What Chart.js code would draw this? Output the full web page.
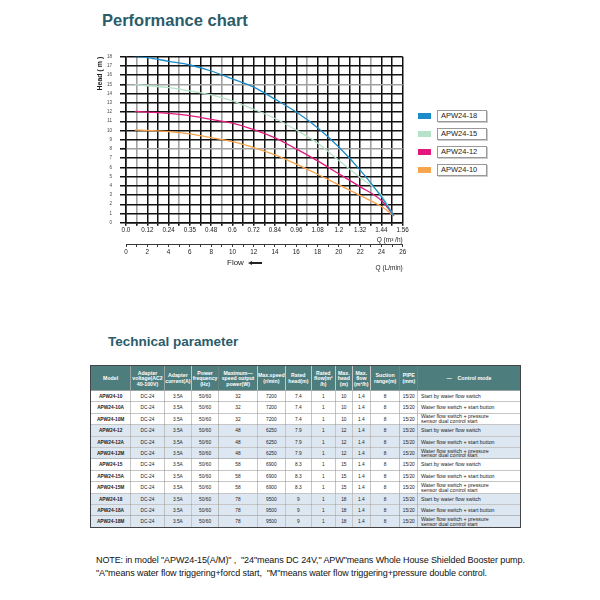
<!DOCTYPE html>
<html>
<head>
<meta charset="utf-8">
<script src="https://cdn.jsdelivr.net/npm/chart.js@4.4.1/dist/chart.umd.min.js"></script>
<style>
  html,body{margin:0;padding:0;background:#fff;width:600px;height:600px;overflow:hidden;font-family:"Liberation Sans",Arial,sans-serif;}
  .h{position:absolute;font-weight:bold;color:#2b5c6a;white-space:nowrap;}
  #wrap{position:absolute;left:80px;top:46px;width:335px;height:226px;}
  #flow{position:absolute;left:227px;top:258px;font-size:8px;color:#222;white-space:nowrap;}
  #flow i{display:inline-block;width:0;height:0;border-top:2px solid transparent;border-bottom:2px solid transparent;border-right:4px solid #222;vertical-align:middle;margin-left:4px;}
  #flow b{display:inline-block;width:10px;height:2px;background:#222;vertical-align:middle;}
  .lg{position:absolute;left:418px;height:10px;}
  .lg span.sw{position:absolute;left:0;top:3px;width:13px;height:6px;}
  .lg span.tx{position:absolute;left:19px;top:0;width:45px;height:10px;border:1px solid #999;box-shadow:1px 1px 0 #ccc;font-size:7.5px;line-height:10px;padding-left:3px;color:#222;white-space:nowrap;}
  #tbox{position:absolute;left:90px;top:365px;width:860px;transform:scale(0.5);transform-origin:0 0;}
  table{width:860px;border-collapse:collapse;table-layout:fixed;border:2px solid #444;}
  td,th{border:1.2px solid #8a8a8a;font-size:9.6px;text-align:center;padding:0;color:#222;white-space:nowrap;overflow:hidden;height:22.8px;line-height:10px;box-sizing:border-box;}
  th{background:#4e7d7e;color:#fff;font-weight:bold;height:50px;line-height:11px;font-size:10.4px;white-space:normal;}
  td.m{font-weight:bold;}
  td.c{text-align:left;padding-left:6px;white-space:normal;line-height:9.5px;font-size:10.6px;}
  tr.b td{background:#dde7f1;}
  #note{position:absolute;left:96px;top:554px;font-size:9px;line-height:13px;color:#111;white-space:nowrap;letter-spacing:-0.1px;}
</style>
</head>
<body>
<div class="h" style="left:102px;top:11px;font-size:16.5px;">Performance chart</div>
<div id="wrap"><canvas id="c"></canvas></div>
<div id="flow">Flow<i></i><b></b></div>
<div id="legend"></div>
<div class="h" style="left:108px;top:334px;font-size:13.5px;">Technical parameter</div>
<div id="tbox"><table id="tbl"></table></div>
<div id="note">NOTE: in model "APW24-15(A/M)" ,&nbsp; "24"means DC 24V," APW"means Whole House Shielded Booster pump.<br>"A"means water flow triggering+forcd start,&nbsp; "M"means water flow triggering+pressure double control.</div>
<script>
// ---------- chart data ----------
const seriesNames = ["APW24-18", "APW24-15", "APW24-12", "APW24-10"];
const seriesColors = ["#1b8cc9", "#b5e2c8", "#e2187c", "#f6a54c"];
const flowQ = [0.05, 0.12, 0.24, 0.36, 0.48, 0.6, 0.72, 0.84, 0.96, 1.08, 1.2, 1.32, 1.44, 1.51];
const head18 = [18.0, 17.9, 17.5, 17.1, 16.45, 15.6, 14.7, 13.4, 12.0, 10.3, 8.2, 5.7, 2.8, 0.75];
const head15 = [15.0, 14.85, 14.65, 14.3, 13.85, 13.2, 12.3, 11.3, 10.05, 8.65, 6.75, 4.9, 3.0, 0.75];
const head12 = [12.07, 12.0, 11.86, 11.6, 11.2, 10.8, 10.1, 9.2, 8.0, 6.7, 5.3, 3.9, 2.4, 0.75];
const head10 = [10.05, 10.0, 9.88, 9.63, 9.22, 8.8, 8.15, 7.35, 6.35, 5.25, 4.1, 2.95, 1.75, 0.75];
const qTickLabels = ["0.0","0.12","0.24","0.35","0.48","0.6","0.72","0.84","0.96","1.08","1.2","1.32","1.44","1.56"];
const lminTickLabels = ["0","2","4","6","8","10","12","14","16","18","20","22","24","26"];
const headTickLabels = ["0","1","2","3","4","5","6","7","8","9","10","11","12","13","14","15","16","17","18"];

// ---------- table data ----------
const models = ["APW24-10","APW24-10A","APW24-10M","APW24-12","APW24-12A","APW24-12M","APW24-15","APW24-15A","APW24-15M","APW24-18","APW24-18A","APW24-18M"];
const voltage = Array(12).fill("DC-24");
const current = Array(12).fill("3.5A");
const freq = Array(12).fill("50/60");
const power = ["32","32","32","48","48","48","58","58","58","78","78","78"];
const speed = ["7200","7200","7200","6250","6250","6250","6900","6900","6900","9500","9500","9500"];
const ratedHead = ["7.4","7.4","7.4","7.9","7.9","7.9","8.3","8.3","8.3","9","9","9"];
const ratedFlow = Array(12).fill("1");
const maxHead = ["10","10","10","12","12","12","15","15","15","18","18","18"];
const maxFlow = ["1,4","1.4","1.4","1.4","1.4","1.4","1.4","1.4","1.4","1.4","1.4","1.4"];
const suction = Array(12).fill("8");
const pipe = Array(12).fill("15/20");
const modes = ["Start by water flow switch","Water flow switch + start button","Water flow switch + pressure<br>sensor dual control start"];
const headers = ["Model","Adapter voltage(AC2 40-100V)","Adapter current(A)","Power frequency (Hz)","Maximum—speed output power(W)","Max.speed (r/min)","Rated head(m)","Rated flow(m³ /h)","Max. head (m)","Max. flow (m³/h)","Suction range(m)","PIPE (mm)","—&nbsp;&nbsp;&nbsp; Control mode"];
const colW = [40,34,26.7,27.7,38.3,28.3,25.7,24.3,16.7,18.3,29.3,18,102.7];

// build table (drawn at 2x, scaled down)
const tbl = document.getElementById('tbl');
let html = '<colgroup>' + colW.map(w => `<col style="width:${w * 2}px">`).join('') + '</colgroup>';
html += '<tr>' + headers.map(h => `<th>${h}</th>`).join('') + '</tr>';
for (let i = 0; i < models.length; i++) {
  const cls = (Math.floor(i / 3) % 2 === 1) ? ' class="b"' : '';
  html += `<tr${cls}><td class="m">${models[i]}</td><td>${voltage[i]}</td><td>${current[i]}</td><td>${freq[i]}</td><td>${power[i]}</td><td>${speed[i]}</td><td>${ratedHead[i]}</td><td>${ratedFlow[i]}</td><td>${maxHead[i]}</td><td>${maxFlow[i]}</td><td>${suction[i]}</td><td>${pipe[i]}</td><td class="c">${modes[i % 3]}</td></tr>`;
}
tbl.innerHTML = html;

// legend
const lg = document.getElementById('legend');
const legendTops = [110, 127.5, 145.5, 163.5];
seriesNames.forEach((n, i) => {
  lg.innerHTML += `<div class="lg" style="top:${legendTops[i]}px"><span class="sw" style="background:${seriesColors[i]}"></span><span class="tx">${n}</span></div>`;
});

// chart
const heads = [head18, head15, head12, head10];
const datasets = seriesNames.map((n, i) => ({
  label: n,
  data: flowQ.map((q, k) => ({x: q, y: heads[i][k]})),
  borderColor: seriesColors[i],
  backgroundColor: seriesColors[i],
  borderWidth: 1.3,
  pointRadius: 0,
  tension: 0.4,
  cubicInterpolationMode: 'monotone',
  fill: false
}));

const grayV = [1, 5, 9, 17, 23];
const grayH = [8, 15];
const tickFont = {family: "Liberation Sans", size: 6.3};

new Chart(document.getElementById('c'), {
  type: 'line',
  data: {datasets},
  options: {
    responsive: true,
    maintainAspectRatio: false,
    animation: false,
    layout: {padding: {top: 9.7, right: 12.3, left: 0, bottom: 0}},
    plugins: {legend: {display: false}, tooltip: {enabled: false}},
    scales: {
      x: {
        type: 'linear', position: 'bottom', min: 0, max: 1.56,
        afterBuildTicks: s => { s.ticks = qTickLabels.flatMap((_, i) => i < 13 ? [{value: i * 0.12}, {value: i * 0.12 + 0.06}] : [{value: 1.56}]); },
        ticks: {autoSkip: false, maxRotation: 0, padding: 1, color: '#222', font: tickFont,
          callback: (v, idx) => idx % 2 === 0 ? qTickLabels[idx / 2] : ''},
        grid: {
          color: c => grayV.includes(c.index) ? '#a0a0a0' : '#111',
          lineWidth: c => grayV.includes(c.index) ? 1.6 : 1.5,
          tickLength: 3, tickColor: '#111'
        },
        border: {display: true, color: '#111', width: 1.5},
        title: {display: true, text: 'Q (m³ /h)', align: 'end', color: '#222', font: {family: "Liberation Sans", size: 6.5}, padding: {top: 1, bottom: 0}},
        afterFit: s => { s.height = 21.3; }
      },
      x2: {
        type: 'linear', position: 'bottom', min: 0, max: 26,
        afterBuildTicks: s => { s.ticks = lminTickLabels.flatMap((_, i) => i < 13 ? [{value: i * 2}, {value: i * 2 + 1}] : [{value: 26}]); },
        ticks: {autoSkip: false, maxRotation: 0, padding: 1, color: '#222', font: tickFont,
          callback: (v, idx) => idx % 2 === 0 ? lminTickLabels[idx / 2] : ''},
        grid: {drawOnChartArea: false, tickLength: 3, color: '#222', lineWidth: 0.9},
        border: {display: true, color: '#222', width: 0.9},
        title: {display: true, text: 'Q (L/min)', align: 'end', color: '#222', font: {family: "Liberation Sans", size: 6.5}, padding: {top: 5, bottom: 0}},
        afterFit: s => { s.height = 28; }
      },
      y: {
        type: 'linear', min: 0, max: 18,
        afterBuildTicks: s => { s.ticks = headTickLabels.map((_, i) => ({value: i})); },
        ticks: {autoSkip: false, padding: 8, color: '#444', font: {family: "Liberation Sans", size: 4.5},
          callback: (v, idx) => headTickLabels[idx]},
        grid: {
          color: c => grayH.includes(c.index) ? '#a0a0a0' : '#111',
          lineWidth: c => grayH.includes(c.index) ? 1.6 : 1.5,
          tickLength: 6, tickColor: '#111'
        },
        border: {display: true, color: '#111', width: 1.5},
        title: {display: true, text: 'Head ( m )', align: 'end', color: '#222', font: {family: "Liberation Sans", size: 7, weight: 'bold'}, padding: {top: 16, bottom: 0}},
        afterFit: s => { s.width = 46; }
      }
    }
  }
});
</script>
</body>
</html>
